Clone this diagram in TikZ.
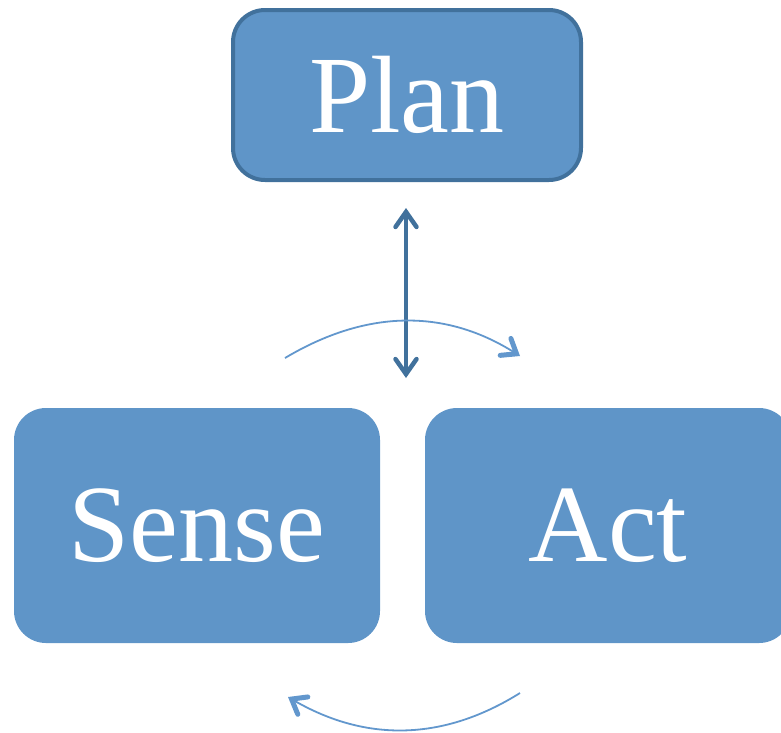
\documentclass[tikz,border=0pt]{standalone}
\usepackage{fontspec}
\setmainfont{Liberation Serif}
\usetikzlibrary{positioning, arrows.meta}

\definecolor{boxfill}{RGB}{95,149,200}
\definecolor{boxline}{RGB}{65,113,156}
\definecolor{loopline}{RGB}{98,151,205}

\begin{document}
\begin{tikzpicture}[x=1pt, y=-1pt, thick,
    block/.style={rectangle, rounded corners=32pt, fill=boxfill, text=white, font=\fontsize{110}{110}\selectfont, inner sep=0pt},
    link/.style={draw=boxline, line width=4pt, {Straight Barb[length=15pt,width=21pt,line width=4.5pt,line cap=round]}-{Straight Barb[length=15pt,width=21pt,line width=4.5pt,line cap=round]}},
    loop/.style={draw=loopline, line width=1.8pt, -{Straight Barb[length=13pt,width=20pt,line width=5pt,line cap=round]}}]
    \useasboundingbox (0,0) rectangle (781,732);

    % Blocks
    \node[block, draw=boxline, line width=4pt, minimum width=348pt, minimum height=170pt] (plan) at (407,95) {\raisebox{-4pt}{Plan}};
    \node[block, minimum width=366pt, minimum height=235pt] (sense) at (197,525.5) {Sense};
    \node[block, minimum width=366pt, minimum height=235pt] (act) at (608,525.5) {Act};

    % Loop ends
    \coordinate (topstart) at (285,358);
    \coordinate (topend) at (520,356);
    \coordinate (botstart) at (520,693);
    \coordinate (botend) at (288,697);
    \coordinate (linkstart) at (406,208);
    \coordinate (linkend) at (406,378);

    % Arrows
    \draw[link] (linkstart) -- (linkend);
    \draw[loop] (topstart) .. controls (366.7,309.3) and (445,308.7) .. (topend);
    \draw[loop] (botstart) .. controls (443.3,741) and (366,742.3) .. (botend);
\end{tikzpicture}
\end{document}
